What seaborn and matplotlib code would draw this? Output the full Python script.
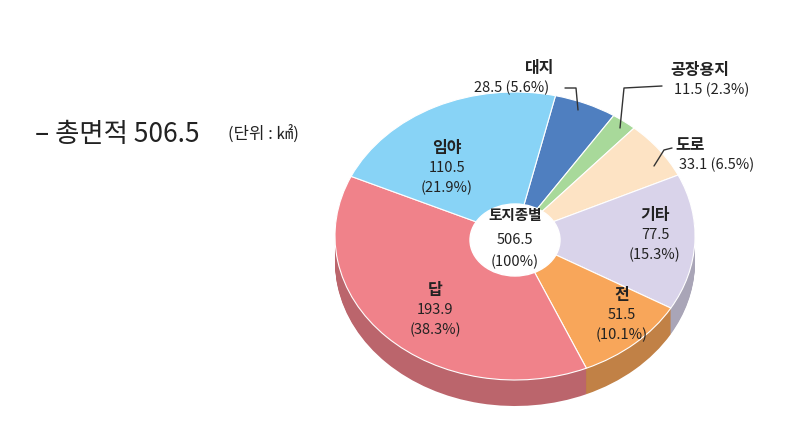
import matplotlib
matplotlib.use("Agg")
import matplotlib.pyplot as plt
import matplotlib.colors as mcolors
import seaborn as sns

sns.set_theme(style="white")
plt.rcParams['font.family'] = ['Noto Sans CJK KR', 'DejaVu Sans']

# 토지종별 면적 (㎢), 시계방향
names = ['대지', '공장용지', '도로', '기타', '전', '답', '임야']
values = [28.5, 11.5, 33.1, 77.5, 51.5, 193.9, 110.5]
pcts = ['5.6%', '2.3%', '6.5%', '15.3%', '10.1%', '38.3%', '21.9%']
colors = ['#4f7fc0', '#a8d99a', '#fde3c4', '#d9d3ea', '#f8a65a', '#f0828a', '#88d3f6']

SQ = 0.8  # 타원 비율
fig = plt.figure(figsize=(8, 4.44), dpi=100)
ax = fig.add_axes([0, 0, 1, 1])

cx, cy, r = 515, 444 - 236, 180
depth = 26


def Y(ypx):
    return (444 - ypx) / SQ


dark = [mcolors.to_hex([c * 0.78 for c in mcolors.to_rgb(col)]) for col in colors]
for k in range(depth, 0, -1):
    ax.pie(values, colors=dark, startangle=77, counterclock=False,
           center=(cx, cy / SQ - k / SQ), radius=r,
           wedgeprops=dict(linewidth=0))
ax.pie(values, colors=colors, startangle=77, counterclock=False,
       center=(cx, cy / SQ), radius=r,
       wedgeprops=dict(linewidth=0.8, edgecolor='white'))
ax.add_patch(plt.Circle((cx, Y(240)), 45, color='white', zorder=5))

ax.set_aspect('auto')
ax.set_xlim(0, 800)
ax.set_ylim(0, 444 / SQ)
ax.axis('off')

fs = 10.5
lab = dict(ha='center', va='center', color='#222222', zorder=6)
ax.text(cx, Y(215), '토지종별', fontsize=fs, fontweight='bold', **lab)
ax.text(cx, Y(240), '506.5', fontsize=fs, **lab)
ax.text(cx, Y(262), '(100%)', fontsize=fs, **lab)

inside = {'임야': (447, 148), '기타': (655, 215), '전': (622, 295), '답': (435, 290)}
for n, v, p in zip(names, values, pcts):
    if n in inside:
        x, y = inside[n]
        ax.text(x, Y(y), n, fontsize=fs + 1, fontweight='bold', **lab)
        ax.text(x, Y(y + 20), f'{v}', fontsize=fs, **lab)
        ax.text(x, Y(y + 40), f'({p})', fontsize=fs, **lab)

outside = {'대지': (540, 68, 512, [(565, 88), (576, 88), (578, 110)]),
           '공장용지': (700, 70, 712, [(662, 86), (624, 88), (620, 128)]),
           '도로': (690, 145, 717, [(672, 148), (664, 150), (654, 166)])}
for n, v, p in zip(names, values, pcts):
    if n in outside:
        x, y, xv, pts = outside[n]
        ax.text(x, Y(y), n, fontsize=fs + 1, fontweight='bold', **lab)
        ax.text(xv, Y(y + 20), f'{v} ({p})', fontsize=fs, **lab)
        ax.plot([q[0] for q in pts], [Y(q[1]) for q in pts], color='#333333', lw=1, zorder=6)

ax.text(35, Y(135), '– 총면적 506.5', fontsize=19, ha='left', va='center', color='#222222')
ax.text(228, Y(135), '(단위 : ㎢)', fontsize=12, ha='left', va='center', color='#222222')

fig.savefig('out.png', dpi=100)
